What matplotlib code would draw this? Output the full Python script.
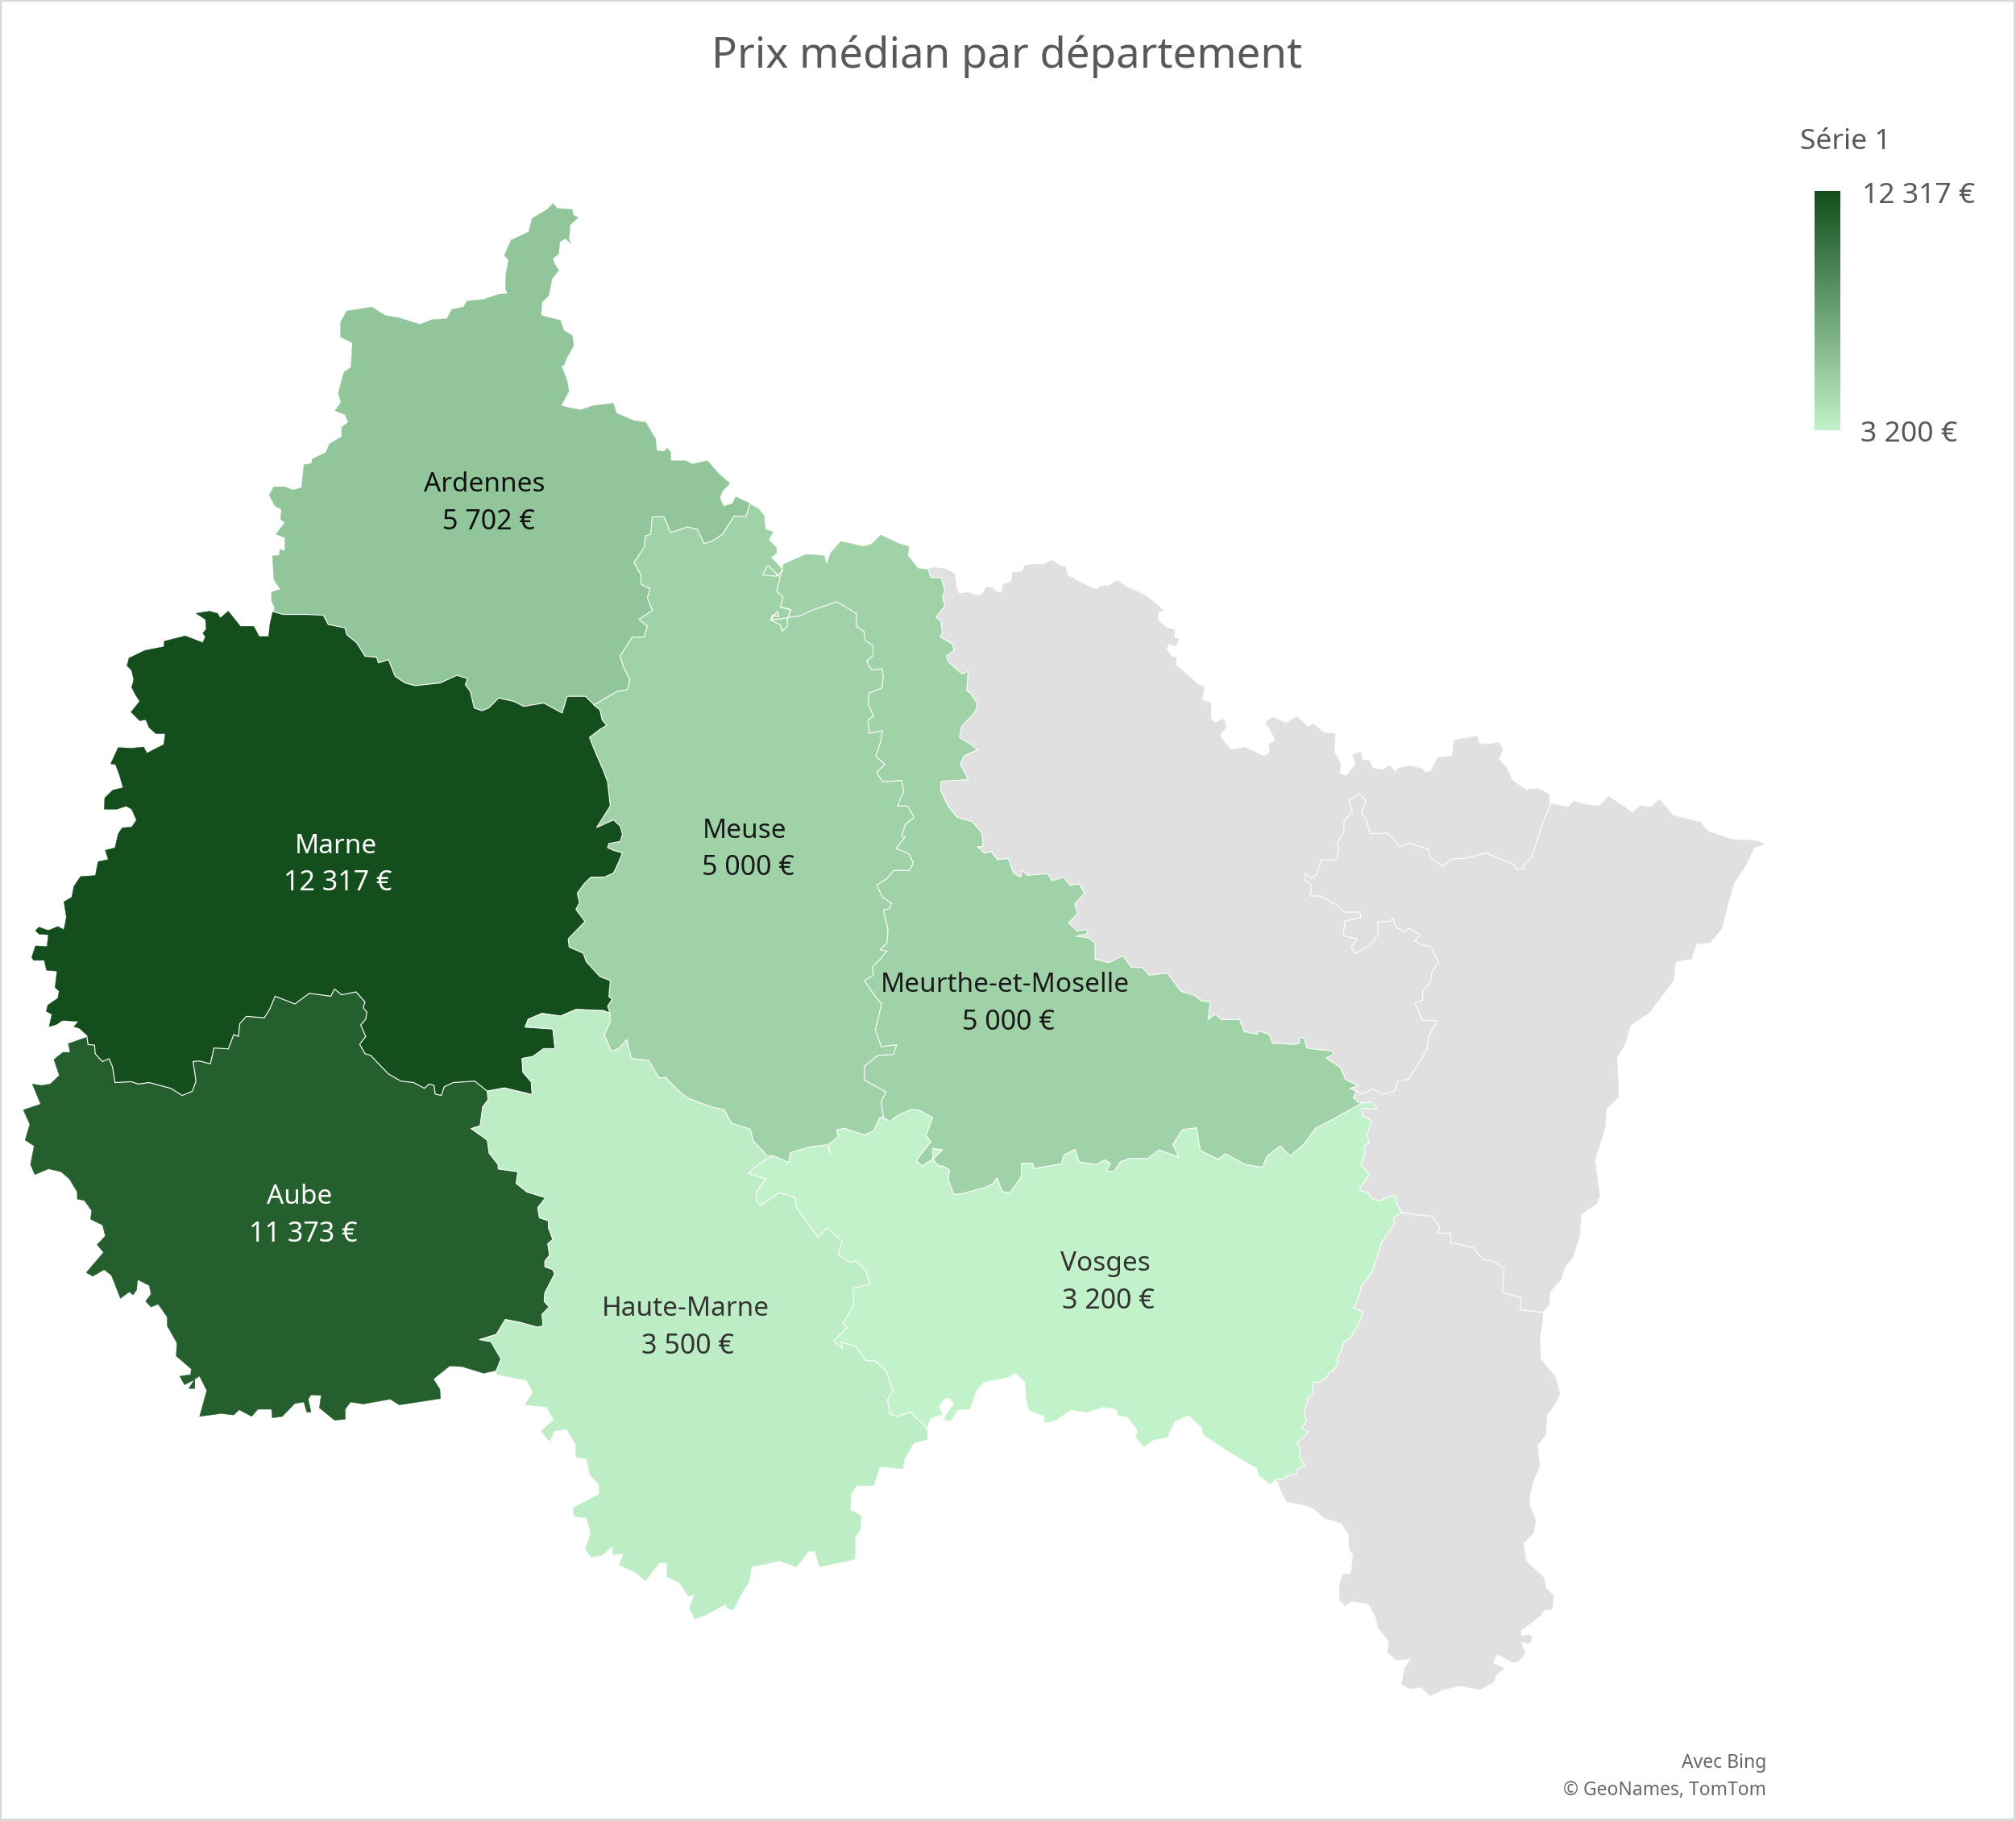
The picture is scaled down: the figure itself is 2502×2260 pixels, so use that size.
import matplotlib
matplotlib.use("Agg")
import matplotlib.pyplot as plt
from matplotlib.colors import LinearSegmentedColormap, Normalize
from matplotlib.patches import Polygon, Rectangle
import numpy as np

plt.rcParams['font.family'] = ['Noto Sans', 'DejaVu Sans']

departments = ["Ardennes", "Meuse", "Marne", "Meurthe-et-Moselle", "Aube", "Haute-Marne", "Vosges"]
prices = [5702, 5000, 12317, 5000, 11373, 3500, 3200]
price_labels = ["5\u00a0702\u00a0€", "5\u00a0000\u00a0€", "12\u00a0317\u00a0€", "5\u00a0000\u00a0€", "11\u00a0373\u00a0€", "3\u00a0500\u00a0€", "3\u00a0200\u00a0€"]
name_xy = [(377, 377), (579, 646), (261, 658), (782, 766), (233, 931), (533, 1018), (860, 983)]
value_xy = [(380, 406), (582, 675), (263, 687), (784, 795), (236, 960), (535, 1047), (862, 1012)]
label_colors = ["#111111", "#1a1a1a", "#ffffff", "#1a1a1a", "#ffffff", "#333333", "#333333"]

K = 2502 / 1568
def z(frame, pts):
    x0, y0, sx, sy = frame
    return [((x0 + x / sx) / K, (y0 + y / sy) / K) for x, y in pts]
def rev(p):
    return p[::-1]
def chain(*parts):
    out = []
    for p in parts:
        out.extend(p)
    return out

# tracing sheets of the boundary digitisation: origin and scale of each sheet
SA = (310, 240, 2.412, 2.412)
SB = (20, 740, 3.0, 2.613)
SC = (20, 1220, 2.24, 2.8)
SD = (600, 1250, 2.613, 2.053)
SE = (1000, 1340, 2.063, 3.0)
SF = (1550, 980, 2.376, 2.24)
SG = (1550, 1600, 3.0, 3.0)
SH = (1150, 670, 1.479, 3.0)
SI = (680, 860, 1.782, 3.0)
SZ = (900, 600, 3.0, 3.0)

ard_north = z(SA, [(72,1252),(75,1240),(65,1220),(65,1193),(92,1185),(72,1155),(68,1085),(88,1083),(90,1065),(105,1070),(105,1030),(78,1020),(105,985),(92,975),(95,945),(75,935),(58,902),(72,878),(105,878),(130,888),(155,880),(162,812),(185,808),(187,795),(228,775),(238,750),(275,728),(275,700),(295,685),(285,662),(255,650),(273,625),(265,597),(282,535),(303,520),(307,447),(272,430),(272,385),(290,352),(335,345),(365,340),(405,365),(445,372),(510,392),(545,378),(590,375),(605,347),(640,340),(650,322),(700,317),(745,302),(772,300),(765,285),(767,240),(775,200),(762,185),(782,140),(835,115),(845,75),(890,48),(908,30),(920,45),(965,48),(968,65),(983,72),(958,95),(958,115),(955,135),(962,150),(945,135),(928,145),(925,180),(907,195),(912,210),(925,230),(905,255),(895,305),(875,325),(872,365),(930,380),(940,410),(965,425),(970,455),(950,490),(940,515),(932,515),(950,560),(955,592),(943,615),(932,635),(950,640),(990,648),(1030,635),(1088,628),(1098,658),(1150,680),(1185,685),(1215,735),(1218,770),(1240,772),(1250,762),(1260,775),(1260,800),(1305,800),(1325,810),(1370,800),(1405,840),(1437,868),(1415,890),(1407,910),(1418,937),(1445,928),(1455,908),(1497,928)])
ard_meuse = z(SA, [(1497,930),(1485,968),(1450,965),(1415,1020),(1385,1040),(1360,1048),(1340,1005),(1310,998),(1260,1015),(1240,968),(1205,968),(1200,1020),(1185,1025),(1180,1060),(1150,1105),(1170,1140),(1172,1170),(1198,1183),(1190,1210),(1205,1248),(1165,1275),(1190,1295),(1180,1328),(1145,1328),(1108,1385),(1120,1420),(1138,1455),(1130,1485),(1100,1490),(1040,1525),(1030,1530)])
ard_marne = z(SA, [(1030,1530),(1005,1505),(950,1505),(935,1555),(880,1525),(820,1535),(790,1520),(745,1510),(715,1540),(695,1548),(672,1540),(660,1490),(645,1470),(652,1452),(620,1442),(570,1465),(495,1473),(465,1465),(435,1445),(415,1395),(385,1405),(380,1388),(345,1385),(320,1345),(290,1320),(285,1300),(235,1290),(220,1262),(170,1260),(100,1260),(72,1252)])
meuse_north = z(SZ, [(90,75),(125,95),(145,120),(150,170),(178,180),(162,210),(192,240),(190,260),(170,275),(195,300),(210,318),(215,300)])
meuse_mm = chain(
    [(609,439),(604,460),(609,464),(607,472),(615,474),(613,480),(622,479),(633,474),(651,468),(666,477),(666,487),(672,491),(673,498),(679,502),(679,510),(674,514),(678,521),(686,520),(687,526),(686,535)],
    z(SI, [(710,0),(708,40),(720,85),(708,100),(710,150),(740,140),(735,185),(725,235),(745,265),(727,295),(740,330),(782,325),(787,365),(773,420),(795,420),(810,462),(790,490),(782,535),(790,535),(770,578),(798,598),(808,632),(800,660),(765,660),(750,690),(727,715),(740,760),(760,782),(755,803),(742,808),(752,880),(750,930),(735,955),(750,960),(735,990),(717,1020),(720,1050),(700,1070),(722,1125),(738,1155),(725,1250)]),
    z(SD, [(1270,55),(1290,100),(1340,95),(1330,120),(1280,122),(1235,150),(1235,185),(1305,215),(1290,240),(1297,280)]))
meuse_vosges = z(SD, [(1297,280),(1285,280),(1265,315),(1235,325),(1170,308),(1145,312),(1150,330),(1120,348),(1125,372),(1115,350),(1060,355),(995,370),(990,395),(940,378)])
meuse_hm = z(SD, [(940,378),(920,378),(875,340),(865,310),(805,295),(780,260),(745,255),(710,245),(660,230),(630,210),(590,178),(570,180),(535,135),(480,130),(465,82),(438,105),(415,112),(392,70),(412,35),(410,15)])
marne_meuse = z(SI, [(102,45),(115,62),(120,100),(130,120),(115,135),(92,165),(105,220),(122,285),(132,330),(138,420),(108,500),(145,472),(160,495),(165,525),(160,552),(135,560),(132,575),(145,585),(165,595),(155,635),(145,670),(125,685),(95,685),(80,710),(65,745),(70,780),(62,805),(82,850),(45,915),(47,945),(78,968),(85,1000),(115,1055),(138,1070),(135,1130),(142,1140),(132,1165),(137,1191)])
hm_marne = z(SD, [(13,213),(68,205),(158,222),(155,190),(128,165),(125,130),(160,125),(195,105),(232,105),(225,55),(135,50),(145,30),(190,15),(250,22),(300,5),(390,8),(410,15)])
marne_aube = z(SC, [(1310,375),(1275,340),(1215,345),(1190,360),(1182,390),(1165,385),(1162,355),(1148,350),(1135,365),(1105,345),(1070,340),(1035,315),(985,250),(970,245),(955,212),(972,185),(958,145),(972,125),(975,100),(965,85),(970,65),(945,30),(905,40),(885,20),(875,45),(815,35),(775,72),(720,45),(705,90),(690,120),(640,115),(622,140),(618,185),(605,178),(590,228),(550,225),(540,280),(510,270),(492,272),(500,340),(490,375),(462,390),(430,365),(370,345),(340,350),(320,342),(275,345),(268,290),(258,262),(240,272),(220,245),(218,215),(200,213),(197,187)])
marne_west = z(SB, [(267,1425),(235,1400),(215,1395),(232,1378),(172,1375),(150,1388),(123,1395),(133,1355),(112,1345),(118,1325),(155,1303),(160,1280),(145,1268),(152,1215),(113,1212),(105,1180),(65,1180),(58,1170),(72,1133),(115,1135),(120,1097),(85,1095),(72,1083),(85,1072),(120,1083),(155,1070),(178,1080),(187,1040),(178,990),(207,975),(215,940),(240,908),(295,905),(305,860),(343,853),(332,823),(368,815),(380,770),(395,750),(430,748),(448,725),(430,690),(410,680),(375,690),(328,690),(330,653),(360,628),(398,620),(385,580),(370,545),(352,543),(380,490),(430,492),(475,488),(487,508),(550,480),(555,445),(520,445),(495,425),(483,400),(460,403),(428,375),(460,340),(445,320),(430,295),(438,270),(430,240),(413,225),(420,200),(480,175),(550,163),(552,145),(630,128),(695,150),(705,130),(695,120),(708,105),(705,75),(670,55),(720,48),(750,55),(760,70),(790,48),(835,97),(885,97),(905,130),(940,130),(945,90),(955,52)])
aube_west = z(SC, [(197,187),(145,210),(150,240),(130,240),(105,265),(120,320),(95,350),(70,355),(45,350),(68,420),(20,440),(38,490),(25,545),(50,565),(40,630),(52,665),(90,645),(125,655),(148,680),(170,725),(170,750),(190,755),(210,790),(207,820),(240,840),(248,878),(225,908),(243,935),(195,1005),(213,1018),(245,995),(265,1015),(290,1095),(315,1072),(325,1083),(335,1065),(338,1030),(370,1050),(375,1080),(360,1105),(375,1125),(395,1115),(420,1160),(420,1190),(447,1250),(445,1295),(487,1340),(485,1360),(455,1365),(468,1395),(495,1378),(480,1408),(497,1408),(497,1375),(510,1365),(530,1415),(510,1505),(570,1495),(605,1500),(620,1482),(655,1505),(672,1480),(710,1480),(712,1510),(740,1505),(775,1460),(800,1455),(808,1490),(820,1490),(812,1445),(820,1430),(848,1432),(843,1475),(885,1518),(915,1515),(915,1480),(930,1455),(965,1462),(1040,1445),(1065,1465),(1180,1443),(1178,1410),(1160,1375),(1205,1330),(1240,1332),(1300,1355),(1335,1345)])
aube_hm = z(SC, [(1335,1345),(1348,1305),(1320,1245),(1288,1238),(1335,1220),(1360,1168),(1400,1178),(1450,1195),(1465,1190),(1462,1150),(1482,1125),(1468,1105),(1470,1075),(1497,1010),(1492,995),(1470,985),(1470,965),(1483,945),(1478,905),(1492,890),(1480,850),(1480,825),(1455,815),(1450,780),(1472,745),(1420,725),(1390,695),(1395,655),(1340,645),(1340,630),(1315,590),(1310,545),(1265,505),(1290,495),(1297,430),(1312,405),(1310,375)])
vosges_hm = z(SD, [(940,378),(900,395),(858,422),(915,437),(885,470),(885,490),(897,505),(960,472),(1010,485),(1015,510),(1085,585),(1115,562),(1163,595),(1150,630),(1190,650),(1205,645),(1240,670),(1253,705),(1200,715),(1200,760),(1165,805),(1180,815),(1135,850),(1165,870),(1160,852),(1210,865),(1240,900),(1270,900),(1305,925),(1328,975),(1310,1000),(1318,1035),(1342,1042),(1385,1030),(1395,1040),(1430,1065),(1438,1075)])
hm_south = z(SD, [(1438,1075),(1440,1100),(1395,1110),(1365,1150),(1360,1175),(1285,1170),(1265,1218),(1210,1218),(1192,1240),(1190,1280),(1225,1295),(1222,1330),(1205,1350),(1205,1405),(1150,1415),(1090,1425),(1075,1385),(1055,1385),(1015,1425),(960,1410),(870,1425),(860,1465),(835,1495),(810,1535),(790,1530),(785,1520),(715,1550),(685,1558),(668,1530),(685,1495),(665,1500),(635,1465),(595,1450),(595,1415),(570,1415),(525,1460),(495,1440),(440,1420),(455,1390),(420,1395),(418,1372),(385,1395),(350,1400),(330,1380),(348,1340),(335,1300),(295,1297),(290,1275),(375,1240),(375,1215),(345,1190),(335,1150),(300,1145),(300,1115),(270,1075),(230,1078),(215,1105),(187,1080),(228,1050),(205,1018),(135,1012),(160,980),(140,950),(45,935),(38,925)])
vosges_south = z(SE, [(310,1295),(318,1260),(350,1245),(340,1215),(355,1185),(370,1185),(380,1205),(362,1240),(355,1265),(372,1268),(388,1228),(420,1225),(435,1160),(455,1125),(520,1105),(537,1090),(562,1125),(565,1190),(572,1230),(610,1250),(612,1275),(635,1270),(680,1228),(720,1238),(760,1217),(795,1225),(800,1248),(825,1255),(850,1305),(845,1330),(865,1365),(890,1340),(925,1330),(945,1270),(980,1247),(1015,1295),(1018,1320),(1085,1385),(1155,1445),(1160,1470),(1190,1505)])
vosges_grey = chain(
    z(SG, [(80,727),(97,708),(130,705),(140,695),(178,685),(180,670),(208,655),(190,625),(190,590),(178,570),(205,550),(220,530),(197,515),(215,490),(205,465),(220,405),(238,385),(240,345),(265,345),(290,325),(300,307),(315,300),(335,270),(325,262),(345,225),(352,195),(378,180),(410,125),(425,85),(390,68),(405,40),(415,5)]),
    z(SF, [(330,1380),(360,1345),(378,1300),(390,1260),(430,1205),(425,1190),(452,1175),(435,1150),(432,1130),(418,1128),(385,1143),(360,1135),(355,1122),(325,1112),(355,1070),(330,1040),(342,1015),(340,990),(355,980),(348,960),(362,920),(335,905),(332,885),(378,888),(370,875),(362,868),(335,870)]))
mm_top = [(609,439),(627,431),(641,432),(643,439),(646,430),(654,421),(672,425),(678,423),(685,416),(700,423),(707,425),(706,432),(714,442),(722,443)]
mm_grey = chain(
    [(722,443),(724,449),(732,449),(735,459),(733,464),(735,471),(728,480),(732,483),(733,493),(731,495),(741,501),(742,506),(736,510),(738,515),(748,524),(753,522),(752,537)],
    z(SI, [(935,0),(950,40),(945,70),(915,125),(910,165),(935,190),(950,210),(920,235),(912,265),(930,322),(870,328),(868,360),(885,420),(905,462),(938,478),(960,520),(962,570),(950,572),(965,595),(980,590),(995,620),(1018,615),(1030,670),(1045,685),(1050,660),(1060,678),(1105,672),(1115,698),(1140,685),(1155,715),(1175,710),(1187,745),(1165,785),(1172,820),(1152,855),(1170,885),(1190,880),(1195,895),(1168,905),(1195,910),(1210,930),(1210,990),(1240,1003),(1272,978),(1290,1020),(1315,1022),(1330,1050),(1370,1042),(1400,1110),(1430,1125),(1445,1145),(1465,1150),(1460,1215),(1475,1195),(1490,1215),(1530,1215),(1540,1260),(1568,1270)]),
    z(SF, [(30,670),(60,680),(70,705),(105,705),(130,708),(148,705),(150,688),(162,690),(172,718),(205,722),(245,725),(250,735),(228,745),(270,772),(285,805),(322,822),(298,830),(318,836),(308,855),(322,868),(335,870)]))
mm_vosges = chain(
    z(SF, [(335,870)]),
    z(SE, [(1345,150),(1305,180),(1275,240),(1240,283),(1215,245),(1180,285),(1170,325),(1125,315),(1075,275),(1055,295),(1010,262),(1000,178),(965,185),(940,240),(955,288),(905,260),(875,293),(830,292),(805,305),(790,340),(770,340),(780,310),(765,297),(745,315),(700,305),(690,258),(660,280),(655,312),(585,330),(580,310),(552,310),(552,360),(523,420),(503,415),(490,365),(480,385),(460,400),(395,425),(378,425),(365,370),(368,335),(350,320),(340,320),(325,295),(350,260),(325,255),(325,295),(298,320),(283,300),(320,230),(308,205),(325,140),(290,112),(270,110),(240,128),(215,155),(197,137)]))
grey_north = z(SH, [(3,108),(15,102),(35,108),(52,125),(55,180),(60,200),(75,195),(90,205),(100,207),(110,175),(122,177),(125,190),(138,197),(140,165),(155,155),(158,122),(175,118),(180,95),(195,90),(215,90),(230,75),(245,95),(255,100),(258,130),(280,155),(295,170),(312,185),(318,172),(335,170),(350,150),(370,178),(385,190),(400,205),(420,235),(435,262),(425,270),(425,300),(440,325),(455,335),(455,365),(463,368),(458,395),(445,385),(440,405),(450,435),(458,435),(458,465),(480,505),(500,540),(510,545),(505,595),(522,608),(522,665),(530,680),(545,665),(550,695),(538,730),(558,780),(585,772),(620,805),(630,790),(628,760),(640,745),(632,710),(622,680),(635,660),(660,682),(680,657),(700,695),(710,685),(730,718),(750,720),(748,790),(760,830),(758,870),(770,878),(788,835),(782,800),(797,790),(800,820),(812,820),(820,850),(838,855),(850,838),(860,865),(865,850),(885,840),(910,852),(915,865),(925,862),(938,810),(965,805),(968,745),(1010,730),(1015,760),(1035,760),(1050,752),(1058,780),(1050,815),(1065,850),(1075,895),(1100,930),(1122,925),(1142,945),(1143,980),(1178,995),(1188,972),(1210,985),(1235,990),(1252,955),(1275,985),(1295,1015),(1310,990),(1330,995),(1345,965),(1370,1025),(1420,1050),(1435,1085),(1480,1115),(1512,1118)])
grey_rhine = z(SF, [(1500,143),(1522,150),(1490,160),(1485,170),(1465,210),(1430,260),(1412,320),(1395,385),(1360,425),(1320,428),(1305,470),(1258,478),(1252,530),(1180,620),(1125,655),(1110,705),(1085,745),(1090,830),(1090,855),(1055,885),(1050,940),(1020,1030),(1035,1130),(1025,1150),(980,1180),(975,1240),(955,1300),(932,1325),(920,1360),(888,1395),(885,1430),(865,1452)])
grey_south = z(SG, [(1095,85),(1092,130),(1083,180),(1087,260),(1140,325),(1158,385),(1138,430),(1110,465),(1105,540),(1075,580),(1082,660),(1060,710),(1045,770),(1045,800),(1068,860),(1060,905),(1022,945),(1032,1010),(1100,1075),(1105,1110),(1135,1140),(1130,1190),(1100,1192),(1085,1215),(1045,1245),(1012,1270),(1015,1290),(1040,1285),(1055,1293),(1045,1318),(1013,1310),(1028,1355),(1000,1387),(975,1385),(925,1357),(908,1390),(950,1410),(920,1435),(913,1460),(860,1490),(790,1475),(720,1490),(675,1513),(640,1480),(600,1487),(568,1470),(580,1410),(605,1375),(550,1380),(515,1350),(522,1310),(480,1258),(475,1225),(445,1170),(380,1160),(358,1178),(338,1155),(337,1100),(350,1060),(380,1058),(385,1015),(388,990),(372,960),(372,912),(345,870),(280,850),(240,815),(205,802),(140,790),(115,740),(108,715)])
moselle_line = z(SF, [(890,40),(865,95),(850,140),(835,185),(808,212),(812,218),(792,222),(780,207),(735,190),(700,175),(640,190),(600,192),(572,212),(535,190),(530,165),(475,148),(445,158),(420,130),(405,120),(358,122),(345,80),(332,65),(345,28),(325,12),(295,30),(305,60),(280,90),(280,115),(260,150),(265,170),(257,195),(213,195),(200,235),(185,245),(165,233),(165,250),(185,265),(180,295),(210,295),(260,320),(280,340),(328,340),(330,355),(283,365),(278,405),(320,415),(302,435),(312,455),(358,432),(382,400),(380,368),(415,365),(425,358),(432,380),(460,395),(470,385),(505,403),(488,420),(510,432),(535,435),(560,480),(540,505),(535,535),(512,560),(512,585),(490,592),(512,640),(555,642),(530,685),(525,720),(510,745),(470,805),(438,810),(430,838),(395,845),(365,832),(335,845),(310,835)])
rhin_line = z(SF, [(452,1175),(490,1180),(540,1185),(563,1215),(555,1232),(595,1232),(595,1258),(660,1272),(690,1305),(720,1310),(752,1330),(748,1397),(803,1412),(800,1445),(865,1452)])
enclave_a = z(SZ, [(215,325),(190,345),(140,340),(155,310),(160,305),(185,330),(200,345)])
enclave_b = z(SZ, [(205,460),(245,470),(232,500),(232,530),(212,550),(205,525),(170,508),(195,475),(200,495),(175,490),(170,508),(232,500)])

meuse_marne = rev(marne_meuse)
shapes = {
    "Ardennes": chain(ard_north, ard_meuse, ard_marne),
    "Meuse": chain(meuse_north, meuse_mm, meuse_vosges, meuse_hm, meuse_marne, rev(ard_meuse)),
    "Marne": chain(rev(ard_marne), marne_meuse, rev(hm_marne), marne_aube, marne_west),
    "Meurthe-et-Moselle": chain(mm_top, mm_grey, mm_vosges, rev(meuse_mm)),
    "Aube": chain(rev(marne_aube), rev(aube_hm), rev(aube_west)),
    "Haute-Marne": chain(vosges_hm, hm_south, aube_hm, hm_marne, rev(meuse_hm)),
    "Vosges": chain(vosges_hm, vosges_south, vosges_grey, mm_vosges, meuse_vosges),
}
grey_shape = chain(grey_north, grey_rhine, grey_south, vosges_grey[1:], rev(mm_grey))
white_lines = [ard_meuse, ard_marne, meuse_mm, meuse_vosges, meuse_hm, marne_meuse, hm_marne, marne_aube,
               aube_hm, vosges_hm, mm_vosges, mm_grey, vosges_grey, moselle_line, rhin_line, enclave_a, enclave_b]

cmap = LinearSegmentedColormap.from_list("g", ["#C1F2C9", "#134E1C"])
norm = Normalize(min(prices), max(prices))
GREY = "#E0E0E0"

fig = plt.figure(figsize=(25.02, 22.60), dpi=100, facecolor="white")
ax = fig.add_axes([0, 0, 1, 1])
ax.axis("off")
ax.add_patch(Rectangle((0.3, 0.3), 1566.5, 1414.5, fc="white", ec="#D9D9D9", lw=2.2))

ax.add_patch(Polygon(grey_shape, closed=True, fc=GREY, ec=GREY, lw=0.3))
for name, price in zip(departments, prices):
    col = cmap(norm(price))
    ax.add_patch(Polygon(shapes[name], closed=True, fc=col, ec=col, lw=0.3))
for line in white_lines:
    ax.plot(*zip(*line), color="white", lw=0.85, solid_joinstyle="round")

for i, name in enumerate(departments):
    ax.text(*name_xy[i], name, ha="center", va="center", color=label_colors[i], fontsize=24)
    ax.text(*value_xy[i], price_labels[i], ha="center", va="center", color=label_colors[i], fontsize=24.5)

ax.text(783, 44, "Prix médian par département", ha="center", va="center", color="#595959", fontsize=38)
ax.text(1400, 110, "Série 1", ha="left", va="center", color="#595959", fontsize=25.5)
ax.text(1448, 152, "12\u00a0317\u00a0€", ha="left", va="center", color="#595959", fontsize=25.5)
ax.text(1447, 338, "3\u00a0200\u00a0€", ha="left", va="center", color="#595959", fontsize=25.5)
ax.text(1374, 1371, "Avec Bing", ha="right", va="center", color="#666666", fontsize=16.5)
ax.text(1374, 1392, "© GeoNames, TomTom", ha="right", va="center", color="#666666", fontsize=16.5)

grad = np.linspace(1, 0, 256).reshape(-1, 1)
ax.imshow(grad, cmap=cmap, extent=(1411.5, 1431.5, 334.5, 149), aspect="auto", zorder=3)
ax.set_xlim(0, 1568)
ax.set_ylim(1416, 0)

fig.savefig("out.png", dpi=100)
